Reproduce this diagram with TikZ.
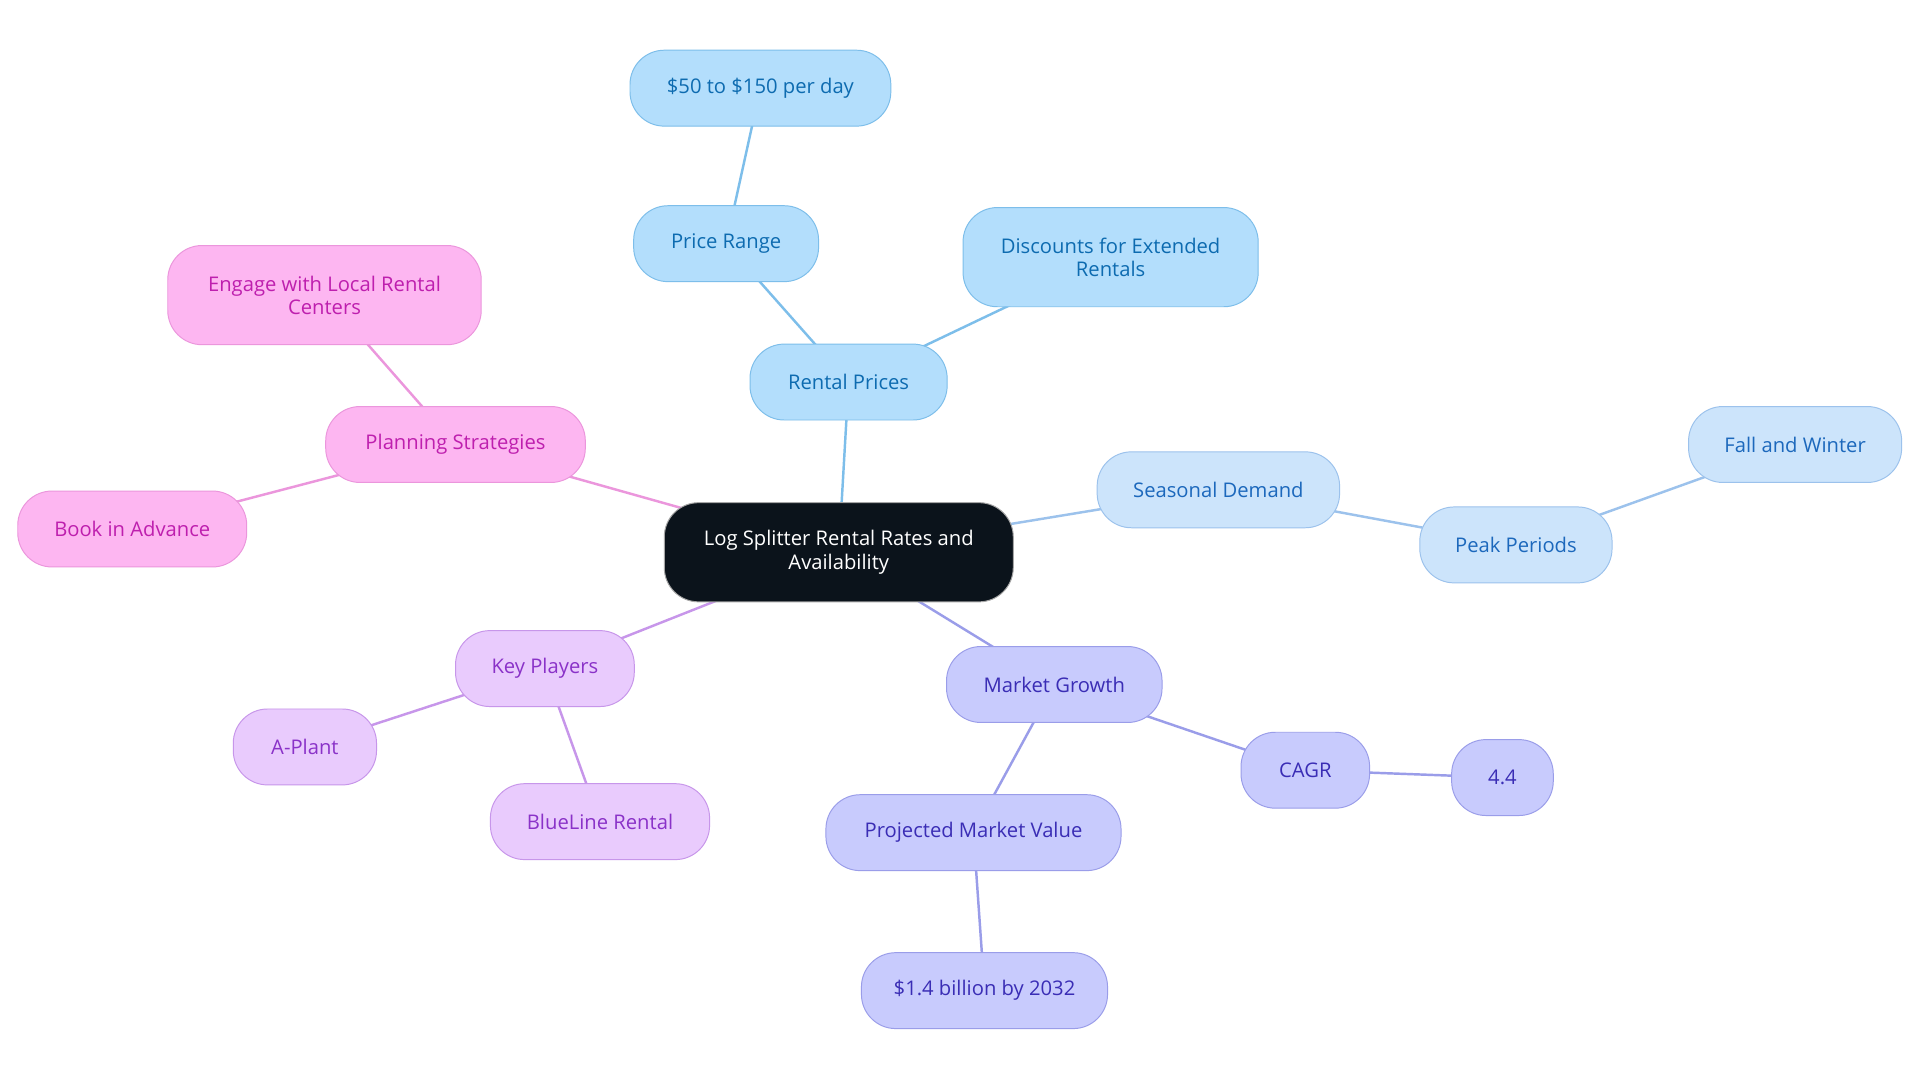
\documentclass[tikz,border=0pt]{standalone}
\usepackage{fontspec}
\setmainfont{Open Sans}
\usetikzlibrary{backgrounds}
\definecolor{rootfill}{HTML}{0B131B}
\definecolor{blufill}{HTML}{B3DEFC}
\definecolor{bluline}{HTML}{7DBEEA}
\definecolor{blutext}{HTML}{0D6BB0}
\definecolor{seafill}{HTML}{CCE4FB}
\definecolor{sealine}{HTML}{9CC2EC}
\definecolor{seatext}{HTML}{1C68BC}
\definecolor{mktfill}{HTML}{C8CBFD}
\definecolor{mktline}{HTML}{9A9DE9}
\definecolor{mkttext}{HTML}{3A2DB5}
\definecolor{keyfill}{HTML}{E9CBFD}
\definecolor{keyline}{HTML}{C796EA}
\definecolor{keytext}{HTML}{8A32C8}
\definecolor{plnfill}{HTML}{FDB6F1}
\definecolor{plnline}{HTML}{EB96DC}
\definecolor{plntext}{HTML}{BE1FAE}
\tikzset{
  mapnode/.style={rounded corners=28pt, align=center, inner sep=0pt,
    minimum height=62pt, font=\fontsize{16.5pt}{19pt}\selectfont, line width=0.8pt},
  rootbox/.style={mapnode, fill=rootfill, draw=gray!70, text=white, minimum height=81pt},
  blubox/.style={mapnode, fill=blufill, draw=bluline, text=blutext},
  seabox/.style={mapnode, fill=seafill, draw=sealine, text=seatext},
  mktbox/.style={mapnode, fill=mktfill, draw=mktline, text=mkttext},
  keybox/.style={mapnode, fill=keyfill, draw=keyline, text=keytext},
  plnbox/.style={mapnode, fill=plnfill, draw=plnline, text=plntext},
  bluedge/.style={draw=bluline, line width=2pt},
  seaedge/.style={draw=sealine, line width=2pt},
  mktedge/.style={draw=mktline, line width=2pt},
  keyedge/.style={draw=keyline, line width=2pt},
  plnedge/.style={draw=plnline, line width=2pt}
}
\begin{document}
\begin{tikzpicture}[x=1pt, y=-1pt]
    \useasboundingbox (0,0) rectangle (1568,884);
    % root
    \node [rootbox, minimum width=285pt] (root) at (685,451) {Log Splitter Rental Rates and\\Availability};
    % rental prices
    \node [blubox, minimum width=161pt] (prices) at (693,312) {Rental Prices};
    \node [blubox, minimum width=151pt] (range) at (593,199) {Price Range};
    \node [blubox, minimum width=213pt] (perday) at (621,72) {\$50 to \$150 per day};
    \node [blubox, minimum width=241pt, minimum height=81pt] (discount) at (907,210) {Discounts for Extended\\Rentals};
    % seasonal demand
    \node [seabox, minimum width=198pt] (season) at (995,400) {Seasonal Demand};
    \node [seabox, minimum width=157pt] (peak) at (1238,445) {Peak Periods};
    \node [seabox, minimum width=174pt] (fall) at (1466,363) {Fall and Winter};
    % market growth
    \node [mktbox, minimum width=176pt] (market) at (861,559) {Market Growth};
    \node [mktbox, minimum width=105pt] (cagr) at (1066,629) {CAGR};
    \node [mktbox, minimum width=83pt] (rate) at (1227,635) {4.4};
    \node [mktbox, minimum width=241pt] (projected) at (795,680) {Projected Market Value};
    \node [mktbox, minimum width=201pt] (billion) at (804,809) {\$1.4 billion by 2032};
    % key players
    \node [keybox, minimum width=146pt] (players) at (445,546) {Key Players};
    \node [keybox, minimum width=117pt] (aplant) at (249,610) {A-Plant};
    \node [keybox, minimum width=179pt] (blueline) at (490,671) {BlueLine Rental};
    % planning strategies
    \node [plnbox, minimum width=212pt] (planning) at (372,363) {Planning Strategies};
    \node [plnbox, minimum width=256pt, minimum height=81pt] (engage) at (265,241) {Engage with Local Rental\\Centers};
    \node [plnbox, minimum width=187pt] (advance) at (108,432) {Book in Advance};
    % connectors, centre to centre behind the boxes
    \begin{scope}[on background layer]
    \fill [white] (0,0) rectangle (1568,884);
    \path [bluedge] (root.center) -- (prices.center);
    \path [bluedge] (prices.center) -- (range.center);
    \path [bluedge] (range.center) -- (perday.center);
    \path [bluedge] (prices.center) -- (discount.center);
    \path [seaedge] (root.center) -- (season.center);
    \path [seaedge] (season.center) -- (peak.center);
    \path [seaedge] (peak.center) -- (fall.center);
    \path [mktedge] (root.center) -- (market.center);
    \path [mktedge] (market.center) -- (cagr.center);
    \path [mktedge] (cagr.center) -- (rate.center);
    \path [mktedge] (market.center) -- (projected.center);
    \path [mktedge] (projected.center) -- (billion.center);
    \path [keyedge] (root.center) -- (players.center);
    \path [keyedge] (players.center) -- (aplant.center);
    \path [keyedge] (players.center) -- (blueline.center);
    \path [plnedge] (root.center) -- (planning.center);
    \path [plnedge] (planning.center) -- (engage.center);
    \path [plnedge] (planning.center) -- (advance.center);
    \end{scope}
\end{tikzpicture}
\end{document}
